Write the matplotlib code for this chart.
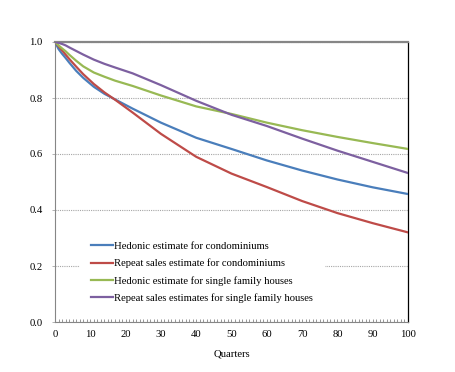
import matplotlib
matplotlib.use('Agg')
import matplotlib.pyplot as plt
from matplotlib.ticker import MultipleLocator

# values
quarters = [0, 1, 2, 3, 4, 6, 8, 11, 14, 17, 22, 30, 40, 50, 60, 70, 80, 90, 100]
hedonic_condo = [1.0, 0.975, 0.958, 0.943, 0.927, 0.897, 0.872, 0.840, 0.815, 0.795, 0.762, 0.712,
                 0.658, 0.618, 0.577, 0.541, 0.509, 0.481, 0.457]
repeat_condo = [1.0, 0.985, 0.970, 0.955, 0.940, 0.912, 0.885, 0.850, 0.820, 0.794, 0.748, 0.672,
                0.590, 0.530, 0.482, 0.432, 0.389, 0.353, 0.320]
hedonic_house = [1.0, 0.988, 0.977, 0.967, 0.955, 0.933, 0.913, 0.891, 0.876, 0.862, 0.843, 0.809,
                 0.770, 0.743, 0.712, 0.685, 0.661, 0.639, 0.618]
repeat_house = [1.0, 0.997, 0.993, 0.988, 0.981, 0.968, 0.955, 0.937, 0.922, 0.909, 0.888, 0.846,
                0.790, 0.740, 0.700, 0.655, 0.612, 0.572, 0.532]

labels = ['Hedonic estimate for condominiums',
          'Repeat sales estimate for condominiums',
          'Hedonic estimate for single family houses',
          'Repeat sales estimates for single family houses']
colors = ['#4A7EBB', '#BE4B48', '#98B954', '#7D60A0']

plt.rcParams['font.family'] = ['Liberation Serif', 'DejaVu Serif']
plt.rcParams['font.size'] = 7.7

fig = plt.figure(figsize=(4.56, 3.72), dpi=100)
ax = fig.add_axes([55 / 456, 50 / 372, 353 / 456, 280 / 372])

for series, label, color in zip([hedonic_condo, repeat_condo, hedonic_house, repeat_house], labels, colors):
    ax.plot(quarters, series, color=color, linewidth=1.6, label=label, zorder=3)

ax.set_xlim(0, 100)
ax.set_ylim(0, 1.0)
ax.xaxis.set_major_locator(MultipleLocator(10))
ax.xaxis.set_minor_locator(MultipleLocator(1))
ax.yaxis.set_major_locator(MultipleLocator(0.2))
ax.yaxis.set_major_formatter(matplotlib.ticker.FormatStrFormatter('%.1f'))

ax.grid(axis='y', color='#A6A6A6', linestyle=(0, (1, 1)), linewidth=0.8, zorder=1)
ax.set_axisbelow(True)

ax.tick_params(axis='x', which='both', direction='in', length=2.5, width=0.6, color='#868686', pad=5.5)
ax.tick_params(axis='y', direction='out', length=2.5, width=0.6, color='#A6A6A6', pad=6.5)

for side in ['left', 'bottom']:
    ax.spines[side].set_color('#868686')
    ax.spines[side].set_linewidth(0.8)
ax.spines['top'].set_color('#868686')
ax.spines['top'].set_linewidth(1.6)
ax.spines['right'].set_color('black')
ax.spines['right'].set_linewidth(0.9)

ax.set_xlabel('Quarters', labelpad=8)

leg = ax.legend(loc='upper left', bbox_to_anchor=(0.07, 0.33), borderaxespad=0, borderpad=1.1,
                handlelength=2.0, handletextpad=0.1, labelspacing=0.72,
                frameon=True, facecolor='white', edgecolor='none', framealpha=1, fancybox=False)
leg.set_zorder(5)

fig.savefig('out.png', dpi=100)
